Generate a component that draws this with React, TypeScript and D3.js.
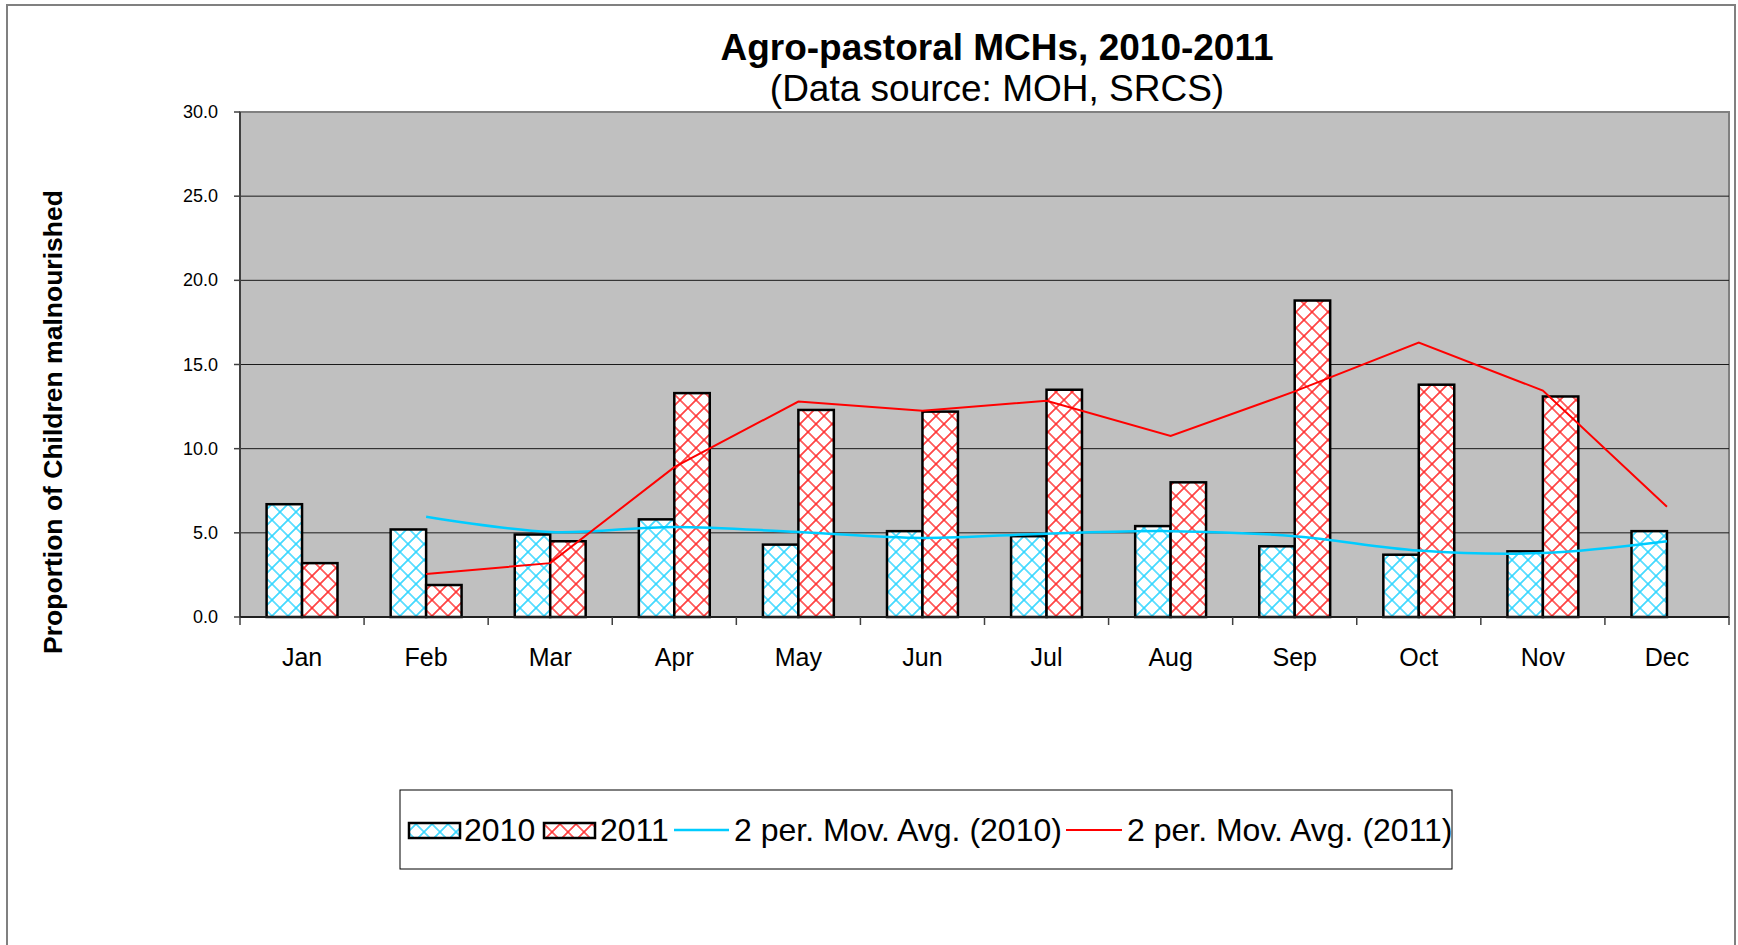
import React from 'react';
import * as d3 from 'd3';

const months = ['Jan', 'Feb', 'Mar', 'Apr', 'May', 'Jun', 'Jul', 'Aug', 'Sep', 'Oct', 'Nov', 'Dec'];
const series = ['2010', '2011'];
const values2010 = [6.7, 5.2, 4.9, 5.8, 4.3, 5.1, 4.8, 5.4, 4.2, 3.7, 3.9, 5.1];
const values2011: (number | null)[] = [3.2, 1.9, 4.5, 13.3, 12.3, 12.2, 13.5, 8.0, 18.8, 13.8, 13.1, null];
// 2 period moving averages
const movAvg2010: (number | null)[] = [null, 5.95, 5.05, 5.35, 5.05, 4.7, 4.95, 5.1, 4.8, 3.95, 3.8, 4.5];
const movAvg2011: (number | null)[] = [null, 2.55, 3.2, 8.9, 12.8, 12.25, 12.85, 10.75, 13.4, 16.3, 13.45, 6.55];
const yTicks = [0, 5, 10, 15, 20, 25, 30];

const W = 1738;
const H = 945;
const FONT = '"Liberation Sans", Arial, sans-serif';
const BLUE = '#00CCFF';
const RED = '#FF0000';

const plot = { left: 240, right: 1729, top: 112, bottom: 617 };

const App: React.FC = () => {
  const x = d3.scaleBand<string>().domain(months).range([plot.left, plot.right]).paddingInner(0).paddingOuter(0);
  const x1 = d3.scaleBand<string>().domain(series).range([0, x.bandwidth()]).paddingInner(0).paddingOuter(0.75);
  const y = d3.scaleLinear().domain([0, 30]).range([plot.bottom, plot.top]);

  const center = (m: string) => (x(m) as number) + x.bandwidth() / 2;

  const lineBlue = d3.line<number | null>()
    .defined(d => d !== null)
    .x((_, i) => center(months[i]))
    .y(d => y(d as number))
    .curve(d3.curveCatmullRom);
  const lineRed = d3.line<number | null>()
    .defined(d => d !== null)
    .x((_, i) => center(months[i]))
    .y(d => y(d as number));

  const barData = [
    { key: '2010', vals: values2010 as (number | null)[], fill: 'url(#hatchBlue)' },
    { key: '2011', vals: values2011, fill: 'url(#hatchRed)' },
  ];

  const boundaries = months.map(m => x(m) as number).concat([plot.right]);
  const p = 16 / Math.SQRT2;

  return (
    <svg width={W} height={H} style={{ position: 'absolute', left: 0, top: 0 }} fontFamily={FONT}>
      <defs>
        <pattern id="hatchBlue" patternUnits="userSpaceOnUse" width={p} height={p} patternTransform="rotate(45)">
          <rect width={p} height={p} fill="#fff" />
          <path d={`M0,${p / 2}H${p}M${p / 2},0V${p}`} stroke={BLUE} strokeWidth={1.6} strokeOpacity={0.85} />
        </pattern>
        <pattern id="hatchRed" patternUnits="userSpaceOnUse" width={p} height={p} patternTransform="rotate(45)">
          <rect width={p} height={p} fill="#fff" />
          <path d={`M0,${p / 2}H${p}M${p / 2},0V${p}`} stroke={RED} strokeWidth={1.6} strokeOpacity={0.85} />
        </pattern>
      </defs>

      {/* outer chart frame */}
      <rect x={7} y={5} width={1728} height={980} fill="#fff" stroke="#808080" strokeWidth={2} />

      {/* titles */}
      <text x={997} y={60} textAnchor="middle" fontSize={37} fontWeight="bold">Agro-pastoral MCHs, 2010-2011</text>
      <text x={997} y={101} textAnchor="middle" fontSize={37}>(Data source: MOH, SRCS)</text>

      {/* plot area */}
      <rect x={plot.left} y={plot.top} width={plot.right - plot.left} height={plot.bottom - plot.top}
        fill="#C0C0C0" stroke="#808080" strokeWidth={2} />
      {yTicks.filter(t => t > 0 && t < 30).map(t => (
        <line key={t} x1={plot.left} x2={plot.right} y1={y(t)} y2={y(t)} stroke="#1a1a1a" strokeWidth={1} />
      ))}

      {/* bars */}
      {barData.map(s => (
        <g key={s.key}>
          {s.vals.map((v, i) => v === null ? null : (
            <rect key={i}
              x={(x(months[i]) as number) + (x1(s.key) as number)}
              y={y(v)}
              width={x1.bandwidth()}
              height={y(0) - y(v)}
              fill={s.fill}
              stroke="#000"
              strokeWidth={2.5} />
          ))}
        </g>
      ))}

      {/* moving averages */}
      <path d={lineBlue(movAvg2010) || ''} fill="none" stroke={BLUE} strokeWidth={2.5} />
      <path d={lineRed(movAvg2011) || ''} fill="none" stroke={RED} strokeWidth={2} />

      {/* axes */}
      <line x1={plot.left} x2={plot.left} y1={plot.top} y2={plot.bottom} stroke="#404040" strokeWidth={2} />
      <line x1={plot.left} x2={plot.right} y1={plot.bottom} y2={plot.bottom} stroke="#202020" strokeWidth={2} />
      {yTicks.map(t => (
        <g key={t}>
          <line x1={plot.left - 6} x2={plot.left} y1={y(t)} y2={y(t)} stroke="#404040" strokeWidth={1.5} />
          <text x={218} y={y(t) + 6} textAnchor="end" fontSize={18}>{d3.format('.1f')(t)}</text>
        </g>
      ))}
      {boundaries.map((b, i) => (
        <line key={i} x1={b} x2={b} y1={plot.bottom} y2={plot.bottom + 8} stroke="#404040" strokeWidth={1.5} />
      ))}
      {months.map(m => (
        <text key={m} x={center(m)} y={666} textAnchor="middle" fontSize={25}>{m}</text>
      ))}

      <text transform="translate(62,422) rotate(-90)" textAnchor="middle" fontSize={26.5} fontWeight="bold">
        Proportion of Children malnourished
      </text>

      {/* legend */}
      <g>
        <rect x={400} y={790} width={1052} height={79} fill="#fff" stroke="#000" strokeWidth={1} />
        <rect x={409} y={823} width={51} height={15} fill="url(#hatchBlue)" stroke="#000" strokeWidth={2.5} />
        <text x={464} y={841} fontSize={32}>2010</text>
        <rect x={544} y={823} width={51} height={15} fill="url(#hatchRed)" stroke="#000" strokeWidth={2.5} />
        <text x={600} y={841} fontSize={32}>2011</text>
        <line x1={674} x2={729} y1={830} y2={830} stroke={BLUE} strokeWidth={2.5} />
        <text x={734} y={841} fontSize={32}>2 per. Mov. Avg. (2010)</text>
        <line x1={1066} x2={1122} y1={830} y2={830} stroke={RED} strokeWidth={2} />
        <text x={1127} y={841} fontSize={32}>2 per. Mov. Avg. (2011)</text>
      </g>
    </svg>
  );
};

export default App;
